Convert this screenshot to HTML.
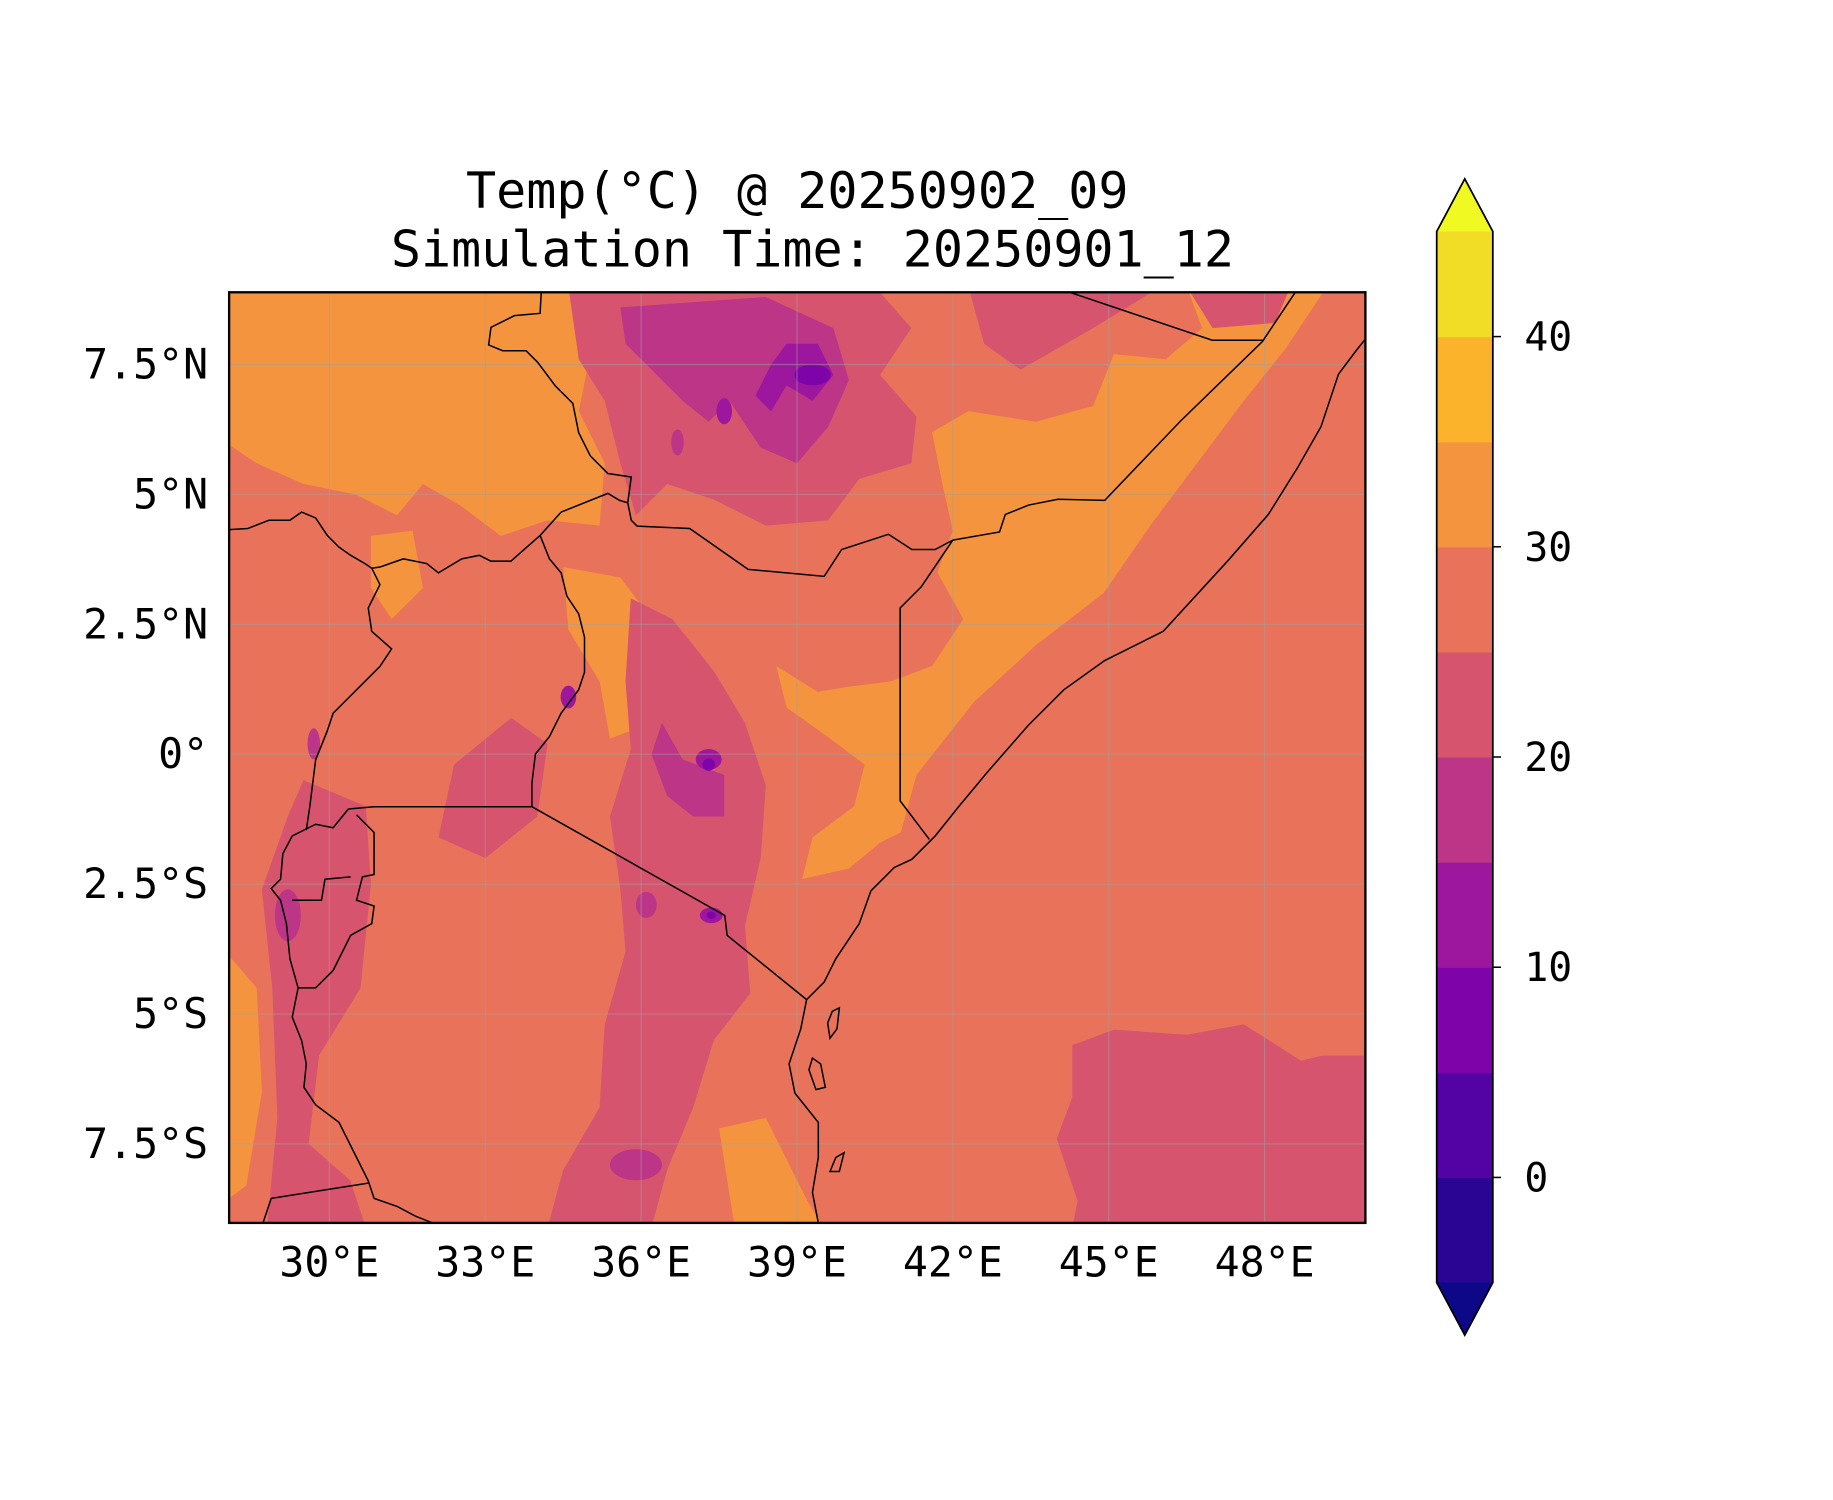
<!DOCTYPE html>
<html><head><meta charset="utf-8"><style>
html,body{margin:0;padding:0;background:#fff}
svg{display:block}
text{font-family:"DejaVu Sans Mono","Liberation Mono",monospace;fill:#000}
</style></head><body>
<svg id="fig" width="1833" height="1500" viewBox="0 0 1568 1283" preserveAspectRatio="none" xmlns="http://www.w3.org/2000/svg">
<rect width="1568" height="1283" fill="#fff"/>
<text x="682" y="178" font-size="42.8" text-anchor="middle">Temp(°C) @ 20250902_09</text>
<text x="695" y="228" font-size="42.8" text-anchor="middle">Simulation Time: 20250901_12</text>
<defs><clipPath id="mapclip"><rect x="196" y="250" width="972" height="796"/></clipPath></defs>
<g id="map" clip-path="url(#mapclip)"></g>
<rect x="196" y="250" width="972" height="796" fill="none" stroke="#000" stroke-width="2"/>
<g id="axes"></g>
<g id="cbar"></g>
</svg>
<script>
const levels=[-5,0,5,10,15,20,25,30,35,40,45];
const bandColors=["#2a0593","#5302a3","#7e03a8","#9c179e","#bc3587","#d6546e","#e8735a","#f5943f","#fbb32b","#f2dd26"];
const xTicks=[30,33,36,39,42,45,48];
const xTickLabels=["30°E","33°E","36°E","39°E","42°E","45°E","48°E"];
const yTicks=[7.5,5,2.5,0,-2.5,-5,-7.5];
const yTickLabels=["7.5°N","5°N","2.5°N","0°","2.5°S","5°S","7.5°S"];
const cbTickVals=[0,10,20,30,40];
const lonMin=28.07, lonMax=49.94, latMin=-9.02, latMax=8.89;
const NS="http://www.w3.org/2000/svg";
function X(lon){return 196+(lon-lonMin)/(lonMax-lonMin)*972;}
function Y(lat){return 250+(latMax-lat)/(latMax-latMin)*796;}
function mk(tag,attrs,parent){const e=document.createElementNS(NS,tag);for(const k in attrs)e.setAttribute(k,attrs[k]);parent.appendChild(e);return e;}
const map=document.getElementById('map');
function poly(pts,color,name){const d=pts.map(p=>X(p[0]).toFixed(1)+","+Y(p[1]).toFixed(1)).join(" ");
 const e=mk('polygon',{points:d,fill:color},map);
 
 }
function blob(lon,lat,rx,ry,color,name){const e=mk('ellipse',{cx:X(lon),cy:Y(lat),rx:rx*44.4,ry:ry*44.4,fill:color},map);
 
 }
const bg=mk('rect',{x:196,y:250,width:972,height:796,fill:bandColors[6]},map);


poly([[28,9],[34.9,9],[35,7.6],[34.8,6.6],[35.3,5.6],[35.2,4.4],[34.2,4.5],[33.3,4.2],[32.5,4.8],[31.8,5.2],[31.3,4.6],[30.5,5],[29.5,5.2],[28.6,5.6],[28,6]],bandColors[7],'warm-region-south-sudan');
poly([[30.8,4.2],[31.6,4.3],[31.8,3.2],[31.2,2.6],[30.8,3.2]],bandColors[7],'warm-region-west-nile');
poly([[41,-1.5],[41.3,-0.4],[42.4,1],[43.6,2.1],[44.9,3.1],[45.8,4.4],[46.7,5.6],[47.6,6.8],[48.4,7.8],[49.2,9],[46.5,9],[46.8,8.2],[46.1,7.6],[45.1,7.7],[44.7,6.7],[43.6,6.4],[42.3,6.6],[41.6,6.2],[41.8,5.2],[42,4.3],[41.7,3.5],[42.2,2.6],[41.6,1.7],[40.8,1.4],[40,1.3],[39.4,1.2],[38.6,1.7],[38.8,0.9],[39.5,0.4],[40.3,-0.2],[40.1,-1],[39.3,-1.6],[39.1,-2.4],[40,-2.2],[40.6,-1.7]],bandColors[7],'warm-region-somalia');
poly([[34.5,3.6],[35.6,3.4],[36.5,2.2],[36.2,0.6],[35.4,0.3],[35.2,1.4],[34.6,2.4]],bandColors[7],'warm-region-turkana');
poly([[28,-3.8],[28.6,-4.5],[28.7,-6.5],[28.4,-8.3],[28,-8.6]],bandColors[7],'warm-region-tanganyika-west');
poly([[37.5,-7.2],[38.4,-7],[39.2,-8.6],[39.5,-9.1],[37.8,-9.1]],bandColors[7],'warm-region-rufiji');
poly([[34.6,9],[40.5,9],[41.2,8.2],[40.6,7.3],[41.3,6.5],[41.2,5.6],[40.2,5.3],[39.6,4.5],[38.4,4.4],[37.4,4.9],[36.5,5.2],[35.9,4.6],[35.6,5.6],[35.3,6.8],[34.8,7.6]],bandColors[5],'cool-region-ethiopia');
poly([[42.3,9],[46,9],[44.7,8.2],[43.3,7.4],[42.6,7.9]],bandColors[5],'cool-region-ogaden');
poly([[46.5,9],[48.5,9],[48.2,8.3],[47,8.2]],bandColors[5],'cool-region-north');
poly([[35.6,8.6],[38.4,8.8],[39.7,8.2],[40,7.2],[39.6,6.3],[39,5.6],[38.3,5.9],[37.7,6.8],[37.3,6.4],[36.8,6.8],[36.1,7.5],[35.7,7.9]],bandColors[4],'colder-region-highlands');
poly([[38.8,7.9],[39.4,7.9],[39.7,7.3],[39.3,6.8],[38.8,7.1],[38.5,6.6],[38.2,6.9],[38.5,7.5]],bandColors[3],'coldest-band-highlands');
blob(39.3,7.3,0.35,0.2,bandColors[2],'cold-spot-bale');
blob(37.6,6.6,0.15,0.25,bandColors[3],'cold-spot-1');
blob(36.7,6.0,0.12,0.25,bandColors[4],'cold-spot-2');
poly([[35.8,3],[36.6,2.6],[37.4,1.6],[38,0.6],[38.4,-0.6],[38.3,-2],[38,-3.3],[38.1,-4.6],[37.4,-5.5],[37,-6.8],[36.5,-8],[36.2,-9.1],[34.2,-9.1],[34.5,-8],[35.2,-6.8],[35.3,-5.2],[35.7,-3.8],[35.6,-2.6],[35.4,-1.2],[35.8,0.1],[35.7,1.4]],bandColors[5],'cool-region-rift');
poly([[36.4,0.6],[36.8,-0.1],[37.6,-0.4],[37.6,-1.2],[37,-1.2],[36.5,-0.8],[36.2,0]],bandColors[4],'colder-region-aberdares');
blob(37.3,-0.1,0.25,0.2,bandColors[3],'cold-spot-mt-kenya');
blob(37.3,-0.2,0.12,0.12,bandColors[2],'cold-spot-mt-kenya-core');
blob(37.35,-3.1,0.22,0.15,bandColors[3],'cold-spot-kilimanjaro');
blob(37.35,-3.1,0.09,0.07,bandColors[2],'cold-spot-kilimanjaro-core');
blob(34.6,1.1,0.15,0.22,bandColors[3],'cold-spot-elgon');
blob(36.1,-2.9,0.2,0.25,bandColors[4],'cold-spot-ngorongoro');
blob(35.9,-7.9,0.5,0.3,bandColors[4],'cold-spot-iringa');
poly([[32.4,-0.2],[33.5,0.7],[34.2,0.2],[34,-1.2],[33,-2],[32.1,-1.6]],bandColors[5],'cool-region-victoria');
poly([[29.5,-0.5],[30.7,-1],[30.8,-2.5],[30.6,-4.5],[29.8,-5.8],[29.6,-7.5],[30.4,-8.2],[30.7,-9.1],[28.8,-9.1],[29,-7],[28.9,-4.5],[28.7,-2.6],[29.2,-1.2]],bandColors[5],'cool-region-western-rift');
blob(29.2,-3.1,0.25,0.5,bandColors[4],'cold-spot-burundi');
blob(29.7,0.2,0.12,0.3,bandColors[4],'cold-spot-rwenzori');
poly([[44.3,-5.6],[45.1,-5.3],[46.5,-5.4],[47.6,-5.2],[48.7,-5.9],[49.1,-5.8],[49.95,-5.8],[49.95,-9.1],[44.3,-9.1],[44.4,-8.6],[44,-7.4],[44.3,-6.6]],bandColors[5],'cool-region-indian-ocean');
for(let i=0;i<xTicks.length;i++){const g=mk('line',{x1:X(xTicks[i]),x2:X(xTicks[i]),y1:250,y2:1046,stroke:'#a0a0a0','stroke-opacity':0.5,'stroke-width':1},map);
 
 }
for(let i=0;i<yTicks.length;i++){const g=mk('line',{y1:Y(yTicks[i]),y2:Y(yTicks[i]),x1:196,x2:1168,stroke:'#a0a0a0','stroke-opacity':0.5,'stroke-width':1},map);
 
 }
const borders={
 'coastline':[[1168,290],[1160,300],[1145,320],[1130,365],[1110,400],[1085,440],[1050,480],[995,540],[945,565],[910,590],[880,620],[845,660],[820,690],[800,715],[780,735],[765,742],[745,762],[735,790],[725,805],[715,820],[705,840],[690,855],[685,880],[675,910],[680,935],[700,960],[700,990],[695,1020],[700,1046]],
 'border-kenya-somalia':[[795,718],[770,685],[770,520],[788,502],[815,462]],
 'border-ethiopia-somalia':[[815,462],[855,455],[860,440],[880,432],[905,427],[945,428],[1010,360],[1080,292],[1108,250]],
 'border-north':[[915,250],[1037,291],[1080,291]],
 'border-kenya-ethiopia':[[815,462],[800,470],[780,470],[760,457],[720,470],[705,493],[640,487],[590,452],[545,450],[540,445],[537,430],[530,428],[520,422],[480,438],[462,458],[437,480],[420,480],[410,475],[395,478],[375,490],[365,482],[345,478],[325,485],[318,486],[312,482],[300,475],[290,468],[280,458],[270,443],[258,438],[248,445],[230,445],[212,452],[196,453]],
 'border-south-sudan-ethiopia':[[537,430],[540,408],[520,405],[505,390],[495,370],[490,345],[475,330],[460,310],[450,300],[430,300],[418,295],[420,280],[440,270],[462,268],[463,250]],
 'border-uganda-kenya':[[462,458],[470,478],[480,490],[485,510],[495,525],[500,545],[500,575],[495,590],[480,610],[470,630],[458,645],[455,670],[455,690]],
 'border-kenya-tanzania':[[455,690],[620,783],[622,800],[690,855]],
 'border-uganda-tanzania':[[455,690],[320,690],[298,692]],
 'border-congo-uganda':[[318,486],[325,500],[315,520],[318,540],[335,555],[325,570],[310,585],[295,600],[285,610],[280,625],[270,650],[265,690],[262,710]],
 'border-rwanda-burundi':[[298,692],[285,708],[270,705],[250,715],[242,730],[240,752],[232,760],[240,770],[245,790],[248,820],[255,845],[270,845],[285,830],[300,800],[318,790],[320,775],[305,770],[310,750],[320,748],[320,712],[305,697]],
 'border-rwanda-burundi-inner':[[250,770],[275,770],[278,752],[300,750]],
 'border-tanganyika':[[255,845],[250,870],[258,890],[262,910],[260,930],[270,945],[290,960],[300,980],[315,1010],[320,1025],[340,1032],[355,1040],[370,1046]],
 'border-zambia':[[232,1025],[315,1012]],
 'border-zambia-2':[[232,1025],[225,1046]],
 'island-pemba':[[712,865],[718,862],[716,880],[710,888],[708,875]],
 'island-zanzibar':[[695,905],[702,910],[706,930],[698,932],[692,915]],
 'island-mafia':[[715,990],[722,986],[718,1002],[710,1002]]
};
for(const k in borders){const pts=borders[k].map(p=>p.join(',')).join(' ');
 const closed=k.startsWith('island');
 const e=mk(closed?'polygon':'polyline',{points:pts,fill:'none',stroke:'#000','stroke-width':1.3},map);
 
 }
const axes=document.getElementById('axes');
for(let i=0;i<xTicks.length;i++){const x=X(xTicks[i]);
 const t=mk('text',{x:x,y:1092,'font-size':35.5,'text-anchor':'middle'},axes);t.textContent=xTickLabels[i];
 
 }
for(let i=0;i<yTicks.length;i++){const y=Y(yTicks[i]);
 const t=mk('text',{x:178,y:y+12,'font-size':35.5,'text-anchor':'end'},axes);t.textContent=yTickLabels[i];
 
 }
const cb=document.getElementById('cbar');
const cbx=1229,cbw=48,cbTop=198,cbBot=1097;
function CY(v){return cbBot-(v-levels[0])/(levels[levels.length-1]-levels[0])*(cbBot-cbTop);}
for(let i=0;i<bandColors.length;i++){const y1=CY(levels[i+1]),y0=CY(levels[i]);
 const r=mk('rect',{x:cbx,y:y1,width:cbw,height:y0-y1+0.5,fill:bandColors[i]},cb);
 
 }
const up=mk('polygon',{points:`${cbx},${cbTop} ${cbx+cbw/2},153 ${cbx+cbw},${cbTop}`,fill:'#f0f921'},cb);


const dn=mk('polygon',{points:`${cbx},${cbBot} ${cbx+cbw/2},1142 ${cbx+cbw},${cbBot}`,fill:'#0d0887'},cb);


const ol=mk('polygon',{points:`${cbx},${cbTop} ${cbx+cbw/2},153 ${cbx+cbw},${cbTop} ${cbx+cbw},${cbBot} ${cbx+cbw/2},1142 ${cbx},${cbBot}`,fill:'none',stroke:'#000','stroke-width':1.5},cb);


for(const v of cbTickVals){const y=CY(v);
 const l=mk('line',{x1:cbx+cbw,x2:cbx+cbw+7,y1:y,y2:y,stroke:'#000','stroke-width':1.3},cb);
 
 
 const t=mk('text',{x:1304,y:y+12,'font-size':34},cb);t.textContent=String(v);
 
 }
</script>
</body></html>
